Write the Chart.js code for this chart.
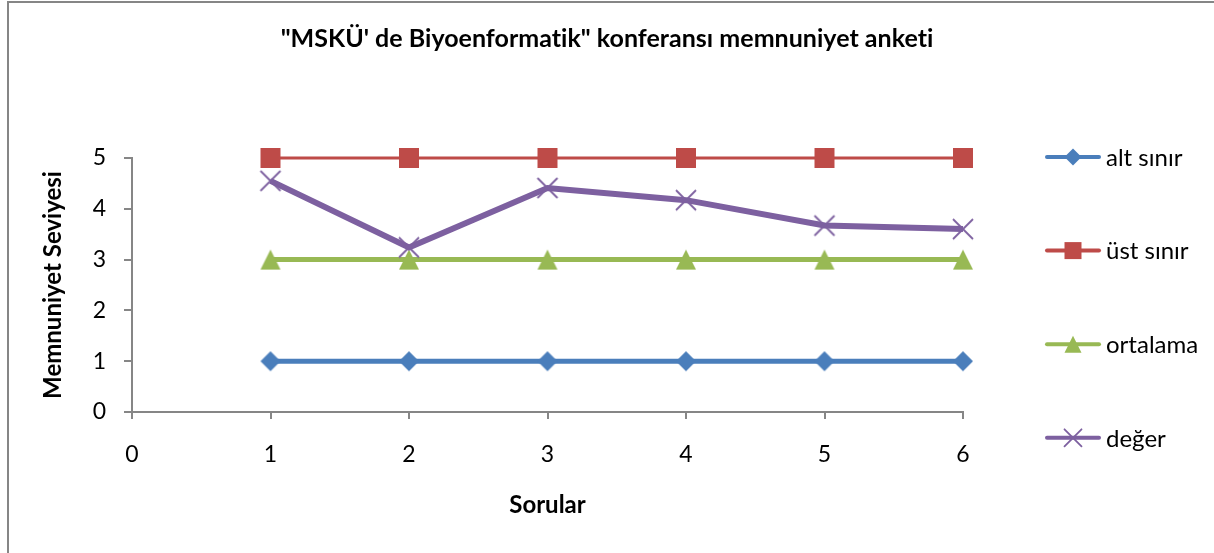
<!DOCTYPE html>
<html><head><meta charset="utf-8">
<script src="https://cdn.jsdelivr.net/npm/chart.js@4.4.1/dist/chart.umd.min.js"></script>
<style>html,body{margin:0;padding:0;background:#fff;overflow:hidden}canvas{display:block}</style>
</head><body>
<canvas id="c" width="1214" height="553"></canvas>
<script>
const chartTitle = '"MSKÜ\' de Biyoenformatik" konferansı memnuniyet anketi';
const xAxisTitle = 'Sorular';
const yAxisTitle = 'Memnuniyet Seviyesi';
const questions = [1, 2, 3, 4, 5, 6];
const seriesNames = ['alt sınır', 'üst sınır', 'ortalama', 'değer'];
const altSinir = [1, 1, 1, 1, 1, 1];
const ustSinir = [5, 5, 5, 5, 5, 5];
const ortalama = [3, 3, 3, 3, 3, 3];
const deger = [4.55, 3.24, 4.41, 4.17, 3.67, 3.60];
const xTicks = [0, 1, 2, 3, 4, 5, 6];
const yTicks = [0, 1, 2, 3, 4, 5];

const FONT = 'Lato';
const AXIS_GRAY = '#868686';

function drawMarker(ctx, shape, cx, cy, s, color) {
  const h = s / 2;
  ctx.save();
  ctx.fillStyle = color; ctx.strokeStyle = color;
  ctx.beginPath();
  if (shape === 'diamond') {
    ctx.moveTo(cx, cy - h); ctx.lineTo(cx + h, cy); ctx.lineTo(cx, cy + h); ctx.lineTo(cx - h, cy); ctx.closePath(); ctx.fill();
  } else if (shape === 'square') {
    ctx.rect(cx - h, cy - h, s, s); ctx.fill();
  } else if (shape === 'triangle') {
    ctx.moveTo(cx, cy - h); ctx.lineTo(cx + h, cy + h); ctx.lineTo(cx - h, cy + h); ctx.closePath(); ctx.fill();
  } else if (shape === 'x') {
    ctx.lineWidth = 1.8;
    ctx.moveTo(cx - h, cy - h); ctx.lineTo(cx + h, cy + h);
    ctx.moveTo(cx + h, cy - h); ctx.lineTo(cx - h, cy + h); ctx.stroke();
  }
  ctx.restore();
}
function markerCanvas(shape, size, color) {
  const c = document.createElement('canvas');
  const d = size + 4; c.width = d; c.height = d;
  drawMarker(c.getContext('2d'), shape, d / 2, d / 2, size, color);
  return c;
}

const seriesDefs = [
  { values: altSinir, color: '#4A7EBB', shape: 'diamond', width: 5, order: 4 },
  { values: ustSinir, color: '#BE4B48', shape: 'square', width: 3.2, order: 3 },
  { values: ortalama, color: '#98B954', shape: 'triangle', width: 5, order: 2 },
  { values: deger, color: '#7D60A0', shape: 'x', width: 6, order: 1 }
];

const datasets = seriesDefs.map((d, i) => ({
  label: seriesNames[i],
  data: questions.map((q, k) => ({ x: q, y: d.values[k] })),
  borderColor: d.color,
  backgroundColor: d.color,
  borderWidth: d.width,
  pointStyle: markerCanvas(d.shape, 20, d.color),
  markerShape: d.shape,
  tension: 0,
  clip: false,
  order: d.order
}));

const decor = {
  id: 'decor',
  beforeDraw(chart) {
    const ctx = chart.ctx;
    ctx.save(); ctx.fillStyle = '#fff'; ctx.fillRect(0, 0, chart.width, chart.height); ctx.restore();
  },
  afterDraw(chart) {
    const ctx = chart.ctx;
    ctx.save();
    ctx.fillStyle = '#000';
    ctx.font = 'bold 25px ' + FONT;
    ctx.letterSpacing = '0.02px';
    ctx.textAlign = 'center'; ctx.textBaseline = 'middle';
    ctx.fillText(chartTitle, 607, 39);
    ctx.letterSpacing = '0px';
    chart.data.datasets.forEach((ds, i) => {
      const y = 157 + i * 93.6;
      ctx.strokeStyle = ds.borderColor; ctx.lineWidth = 4; ctx.lineCap = 'round';
      ctx.beginPath(); ctx.moveTo(1047, y); ctx.lineTo(1099, y); ctx.stroke();
      drawMarker(ctx, ds.markerShape, 1073, y, 17, ds.borderColor);
      ctx.fillStyle = '#000'; ctx.textAlign = 'left'; ctx.textBaseline = 'middle';
      ctx.font = '24px ' + FONT;
      ctx.fillText(ds.label, 1106, y + 1);
    });
    ctx.strokeStyle = AXIS_GRAY; ctx.lineWidth = 2;
    ctx.strokeRect(8, 2, 1400, 800);
    ctx.restore();
  }
};

new Chart(document.getElementById('c'), {
  type: 'line',
  data: { datasets },
  plugins: [decor],
  options: {
    responsive: false,
    animation: false,
    layout: { padding: { left: 0, right: 251, top: 158, bottom: 0 } },
    plugins: { legend: { display: false }, title: { display: false }, tooltip: { enabled: false } },
    scales: {
      x: {
        type: 'linear', min: 0, max: 6,
        afterBuildTicks: s => { s.ticks = xTicks.map(v => ({ value: v })); },
        afterFit: s => { s.height = 553 - 412; },
        grid: { drawOnChartArea: false, drawTicks: true, tickLength: 7, color: AXIS_GRAY, lineWidth: 2 },
        border: { display: true, color: AXIS_GRAY, width: 2 },
        ticks: { color: '#000', font: { family: FONT, size: 23 }, padding: 22, maxRotation: 0, autoSkip: false },
        title: { display: true, text: xAxisTitle, color: '#000', font: { family: FONT, size: 24, weight: 'bold' }, padding: { top: 0, bottom: 33 } }
      },
      y: {
        type: 'linear', min: 0, max: 5,
        afterBuildTicks: s => { s.ticks = yTicks.map(v => ({ value: v })); },
        afterFit: s => { s.width = 132; },
        grid: { drawOnChartArea: false, drawTicks: true, tickLength: 8, color: AXIS_GRAY, lineWidth: 2 },
        border: { display: true, color: AXIS_GRAY, width: 2 },
        ticks: { color: '#000', font: { family: FONT, size: 23 }, padding: 18 },
        title: { display: true, text: yAxisTitle, color: '#000', font: { family: FONT, size: 24, weight: 'bold' }, padding: { top: 39, bottom: 0 } }
      }
    }
  }
});
</script>
</body></html>
